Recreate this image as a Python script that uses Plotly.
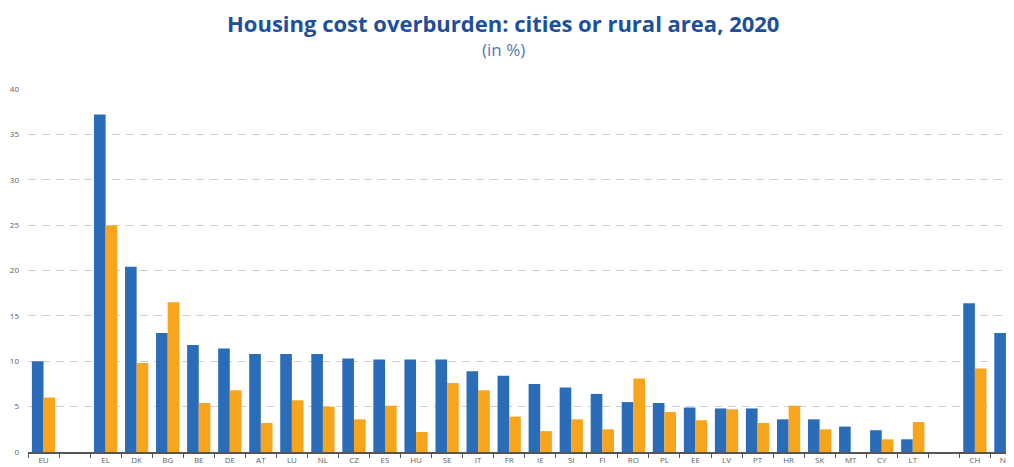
import plotly.graph_objects as go

categories = ["EU", " ", "EL", "DK", "BG", "BE", "DE", "AT", "LU", "NL", "CZ", "ES", "HU",
              "SE", "IT", "FR", "IE", "SI", "FI", "RO", "PL", "EE", "LV", "PT", "HR", "SK",
              "MT", "CY", "LT", "  ", "CH", "NO"]
cities = [10.0, None, 37.2, 20.4, 13.1, 11.8, 11.4, 10.8, 10.8, 10.8, 10.3, 10.2, 10.2,
          10.2, 8.9, 8.4, 7.5, 7.1, 6.4, 5.5, 5.4, 4.9, 4.8, 4.8, 3.6, 3.6,
          2.8, 2.4, 1.4, None, 16.4, 13.1]
rural = [6.0, None, 25.0, 9.8, 16.5, 5.4, 6.8, 3.2, 5.7, 5.0, 3.6, 5.1, 2.2,
         7.6, 6.8, 3.9, 2.3, 3.6, 2.5, 8.1, 4.4, 3.5, 4.7, 3.2, 5.1, 2.5,
         None, 1.4, 3.3, None, 9.2, 5.8]
y_ticks = [0, 5, 10, 15, 20, 25, 30, 35, 40]

BLUE = "#2a6cb8"
ORANGE = "#f7a51d"

# the page body has an 8px default margin, so the figure is offset by 8px
OFF = 8
W, H = 1014 - OFF, 467 - OFF
TOP, BOT, LEFT = 89 - OFF, 15, 28 - OFF

fig = go.Figure()
fig.add_trace(go.Bar(x=categories, y=cities, name="Cities",
                     marker=dict(color=BLUE, line=dict(width=0))))
fig.add_trace(go.Bar(x=categories, y=rural, name="Rural areas",
                     marker=dict(color=ORANGE, line=dict(width=0))))

fig.update_layout(
    width=W, height=H,
    margin=dict(l=LEFT, r=0, t=TOP, b=BOT, autoexpand=False),
    paper_bgcolor="white", plot_bgcolor="white",
    barmode="group", bargap=0.25, bargroupgap=0,
    showlegend=False,
    font=dict(family="Open Sans", color="#666666"),
)

plot_h = H - TOP - BOT
plot_w = W - LEFT
def py(pix):
    # page pixel -> paper y
    return (467 - BOT - pix) / plot_h
def px(pix):
    # page pixel -> paper x
    return (pix - OFF - LEFT) / plot_w

fig.add_annotation(text="<b>Housing cost overburden: cities or rural area, 2020</b>",
                   x=px(503), xref="paper", y=py(23), yref="paper", showarrow=False,
                   xanchor="center", yanchor="middle",
                   font=dict(size=22, color="#1d4f9c", family="Open Sans"))
fig.add_annotation(text="(in %)",
                   x=px(503), xref="paper", y=py(50), yref="paper", showarrow=False,
                   xanchor="center", yanchor="middle",
                   font=dict(size=17, color="#4f7bb3", family="Open Sans"))

fig.update_xaxes(
    type="category", range=[-0.5, 31.26],
    showgrid=False, showline=True, linecolor="#555555", linewidth=1.5,
    ticks="outside", tickson="boundaries", ticklen=4, tickcolor="#555555", tickwidth=1,
    tickfont=dict(size=8, color="#606060"),
    fixedrange=True,
)
fig.update_yaxes(
    range=[0, 40], tickvals=y_ticks,
    showgrid=True, gridcolor="#cfcfcf", gridwidth=1.2, griddash="8px,6px",
    zeroline=False, showline=False,
    tickfont=dict(size=8, color="#606060"), ticklabelstandoff=8,
    fixedrange=True,
)

fig.write_html("out.html")
